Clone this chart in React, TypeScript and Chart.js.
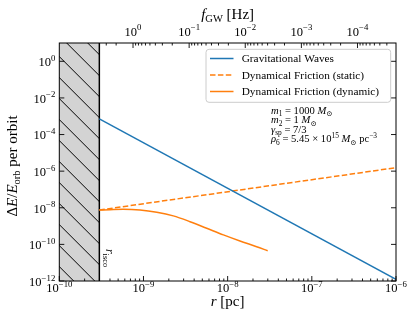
import React, { useEffect, useRef } from 'react';
import { Chart, registerables } from 'chart.js';

Chart.register(...registerables);

// ---- axis ranges ----
const R_MIN = 1e-10;
const R_MAX = 1e-6;
const Y_MIN = 1e-12;
const Y_MAX = 1e1;
const F_AT_RMIN = 20.6;
const F_AT_RMAX = 2.06e-5;
const R_ISCO = 2.99e-10;

// ---- series ----
const gwR = [2.99e-10, 1e-6];
const gwE = [7.1e-4, 1.24e-12];

const dfStaticR = [2.99e-10, 1e-6];
const dfStaticE = [7.5e-9, 1.55e-6];

const dfDynR = [2.99e-10, 4.0e-10, 5.75e-10, 9.1e-10, 1.44e-9, 2.26e-9, 3.57e-9, 5.64e-9, 8.9e-9, 1.4e-8, 2.21e-8, 2.99e-8];
const dfDynE = [7.5e-9, 7.9e-9, 8.3e-9, 7.6e-9, 5.7e-9, 3.6e-9, 1.74e-9, 7.6e-10, 3.3e-10, 1.54e-10, 7.5e-11, 4.5e-11];

// ---- ticks / labels ----
const xMajorExp = [-10, -9, -8, -7, -6];
const yMajorExp = [-12, -10, -8, -6, -4, -2, 0];
const fExpRange = [-5, 1];
const legendLabels = ['Gravitational Waves', 'Dynamical Friction (static)', 'Dynamical Friction (dynamic)'];
const colors = ['#1f77b4', '#ff7f0e', '#ff7f0e'];

type Seg = { t: string; i?: boolean; p?: 'sub' | 'sup' };
const FONT = '"Liberation Serif", "DejaVu Serif", serif';
const fnt = (size: number, italic?: boolean) => `${italic ? 'italic ' : ''}${size}px ${FONT}`;

function richWidth(ctx: CanvasRenderingContext2D, segs: Seg[], size: number) {
  let w = 0;
  for (const s of segs) {
    ctx.font = fnt(s.p ? size * 0.7 : size, s.i);
    w += ctx.measureText(s.t).width;
  }
  return w;
}

function drawRich(ctx: CanvasRenderingContext2D, segs: Seg[], x: number, y: number, size: number, align: 'left' | 'center' | 'right') {
  const w = richWidth(ctx, segs, size);
  let cx = align === 'left' ? x : align === 'center' ? x - w / 2 : x - w;
  ctx.textAlign = 'left';
  ctx.textBaseline = 'alphabetic';
  for (const s of segs) {
    const sz = s.p ? size * 0.7 : size;
    const dy = s.p === 'sub' ? size * 0.22 : s.p === 'sup' ? -size * 0.42 : 0;
    ctx.font = fnt(sz, s.i);
    ctx.fillText(s.t, cx, y + dy);
    cx += ctx.measureText(s.t).width;
  }
}

const pow10 = (e: number): Seg[] => [{ t: '10' }, { t: e < 0 ? '\u2212' + -e : String(e), p: 'sup' }];

const annotation: Seg[][] = [
  [{ t: 'm', i: true }, { t: '1', p: 'sub' }, { t: ' = 1000 ' }, { t: 'M', i: true }, { t: '\u2299', p: 'sub' }],
  [{ t: 'm', i: true }, { t: '2', p: 'sub' }, { t: ' = 1 ' }, { t: 'M', i: true }, { t: '\u2299', p: 'sub' }],
  [{ t: '\u03b3', i: true }, { t: 'sp', p: 'sub' }, { t: ' = 7/3' }],
  [{ t: '\u03c1', i: true }, { t: '6', p: 'sub' }, { t: ' = 5.45 \u00d7 10' }, { t: '15', p: 'sup' }, { t: ' ' }, { t: 'M', i: true }, { t: '\u2299', p: 'sub' }, { t: ' pc' }, { t: '\u22123', p: 'sup' }],
];

function line(ctx: CanvasRenderingContext2D, x1: number, y1: number, x2: number, y2: number) {
  ctx.beginPath();
  ctx.moveTo(x1, y1);
  ctx.lineTo(x2, y2);
  ctx.stroke();
}

const decor = {
  id: 'decor',
  beforeDatasetsDraw(chart: any) {
    const { ctx, chartArea: a, scales } = chart;
    const xs = scales.x;
    const x2 = scales.x2;
    const xi = xs.getPixelForValue(R_ISCO);
    ctx.save();
    // top (frequency) ticks
    ctx.strokeStyle = '#000';
    ctx.lineWidth = 0.9;
    for (let e = fExpRange[0]; e <= fExpRange[1]; e++) {
      for (let k = 1; k < 10; k++) {
        const f = k * Math.pow(10, e);
        if (f < F_AT_RMAX || f > F_AT_RMIN) continue;
        const px = x2.getPixelForValue(f);
        if (px < xi - 0.5) continue;
        line(ctx, px, a.top, px, a.top + (k === 1 ? 5 : 2.5));
      }
    }
    // hatched excluded region
    ctx.beginPath();
    ctx.rect(a.left, a.top, xi - a.left, a.bottom - a.top);
    ctx.fillStyle = '#d3d3d3';
    ctx.fill();
    ctx.save();
    ctx.clip();
    ctx.strokeStyle = '#000';
    ctx.lineWidth = 1;
    const sp = 21;
    const c0 = 144.3;
    for (let c = c0 - sp * 20; c < c0 + sp * 20; c += sp) {
      line(ctx, a.left - 5, a.left - 5 + c, xi + 5, xi + 5 + c);
    }
    ctx.restore();
    ctx.strokeStyle = '#000';
    ctx.lineWidth = 1.5;
    line(ctx, xi, a.top, xi, a.bottom);
    ctx.restore();
  },
  afterDraw(chart: any) {
    const { ctx, chartArea: a, scales } = chart;
    const xs = scales.x;
    const ys = scales.y;
    const x2 = scales.x2;
    const xi = xs.getPixelForValue(R_ISCO);
    ctx.save();
    ctx.fillStyle = '#000';
    ctx.strokeStyle = '#000';

    // bottom ticks
    ctx.lineWidth = 0.9;
    for (let e = -10; e < -6; e++) {
      for (let k = 2; k < 10; k++) {
        const px = xs.getPixelForValue(k * Math.pow(10, e));
        line(ctx, px, a.bottom, px, a.bottom - 2.5);
      }
    }
    for (const e of xMajorExp) {
      const px = xs.getPixelForValue(Math.pow(10, e));
      line(ctx, px, a.bottom, px, a.bottom - 5);
      drawRich(ctx, pow10(e), px, 292, 12.5, 'center');
    }
    // y ticks
    for (const e of yMajorExp) {
      const py = ys.getPixelForValue(Math.pow(10, e));
      line(ctx, a.left, py, a.left + 5, py);
      line(ctx, a.right, py, a.right - 5, py);
      drawRich(ctx, pow10(e), a.left - 4, py + 4.8, 12.5, 'right');
    }
    // top labels
    for (let e = fExpRange[0]; e <= fExpRange[1]; e++) {
      const f = Math.pow(10, e);
      if (f < F_AT_RMAX || f > F_AT_RMIN) continue;
      const px = x2.getPixelForValue(f);
      if (px < xi - 0.5) continue;
      drawRich(ctx, pow10(e), px, 35.7, 12.5, 'center');
    }

    // frame
    ctx.lineWidth = 1;
    ctx.strokeRect(a.left, a.top, a.right - a.left, a.bottom - a.top);

    // axis titles
    const cxp = (a.left + a.right) / 2;
    drawRich(ctx, [{ t: 'f', i: true }, { t: 'GW', p: 'sub' }, { t: ' [Hz]' }], cxp, 18.5, 15, 'center');
    drawRich(ctx, [{ t: 'r', i: true }, { t: ' [pc]' }], cxp, 306, 15, 'center');
    ctx.save();
    ctx.translate(16.5, 166);
    ctx.rotate(-Math.PI / 2);
    drawRich(ctx, [{ t: '\u0394' }, { t: 'E', i: true }, { t: '/' }, { t: 'E', i: true }, { t: 'orb', p: 'sub' }, { t: ' per orbit' }], 0, 0, 15, 'center');
    ctx.restore();

    // r_isco label
    ctx.save();
    ctx.translate(105.5, 258);
    ctx.rotate(Math.PI / 2);
    drawRich(ctx, [{ t: 'r', i: true }, { t: 'isco', p: 'sub' }], 0, 0, 12, 'center');
    ctx.restore();

    // legend
    ctx.save();
    ctx.beginPath();
    ctx.roundRect(206, 49.3, 184.7, 53, 3);
    ctx.fillStyle = 'rgba(255,255,255,0.8)';
    ctx.fill();
    ctx.strokeStyle = '#cccccc';
    ctx.lineWidth = 1;
    ctx.stroke();
    const rows = [58.5, 75, 91.5];
    chart.data.datasets.forEach((ds: any, i: number) => {
      ctx.strokeStyle = ds.borderColor;
      ctx.lineWidth = 1.5;
      ctx.setLineDash(ds.borderDash || []);
      line(ctx, 210, rows[i], 233.5, rows[i]);
      ctx.setLineDash([]);
      ctx.fillStyle = '#000';
      ctx.font = fnt(11.3);
      ctx.textAlign = 'left';
      ctx.textBaseline = 'alphabetic';
      ctx.fillText(ds.label, 241.7, rows[i] + 3.8);
    });
    ctx.restore();

    // annotation
    ctx.fillStyle = '#000';
    const base = [113.7, 123.2, 132.6, 142.4];
    annotation.forEach((segs, i) => drawRich(ctx, segs, 271, base[i], 10.6, 'left'));

    ctx.restore();
  },
};

export default function App() {
  const ref = useRef<HTMLCanvasElement | null>(null);
  useEffect(() => {
    const canvas = ref.current;
    if (!canvas) return;
    const mk = (rs: number[], es: number[]) => rs.map((r, i) => ({ x: r, y: es[i] }));
    const chart = new Chart(canvas, {
      type: 'line',
      data: {
        datasets: [
          { label: legendLabels[0], data: mk(gwR, gwE), borderColor: colors[0], borderWidth: 1.5, pointRadius: 0, fill: false },
          { label: legendLabels[1], data: mk(dfStaticR, dfStaticE), borderColor: colors[1], borderWidth: 1.5, borderDash: [5.5, 2.4], pointRadius: 0, fill: false },
          { label: legendLabels[2], data: mk(dfDynR, dfDynE), borderColor: colors[2], borderWidth: 1.5, pointRadius: 0, fill: false, cubicInterpolationMode: 'monotone' },
        ] as any,
      },
      options: {
        animation: false,
        responsive: false,
        maintainAspectRatio: false,
        layout: { padding: { left: 59.3, right: 20, top: 43, bottom: 44 } },
        plugins: { legend: { display: false }, tooltip: { enabled: false } },
        scales: {
          x: { type: 'logarithmic', min: R_MIN, max: R_MAX, display: false },
          y: { type: 'logarithmic', min: Y_MIN, max: Y_MAX, display: false },
          x2: { type: 'logarithmic', axis: 'x', position: 'top', reverse: true, min: F_AT_RMAX, max: F_AT_RMIN, display: false },
        } as any,
      },
      plugins: [decor],
    });
    return () => chart.destroy();
  }, []);
  return (
    <div style={{ position: 'absolute', left: 0, top: 0, width: 416, height: 325, background: '#fff' }}>
      <canvas ref={ref} width={416} height={325} style={{ display: 'block', width: 416, height: 325 }} />
    </div>
  );
}
